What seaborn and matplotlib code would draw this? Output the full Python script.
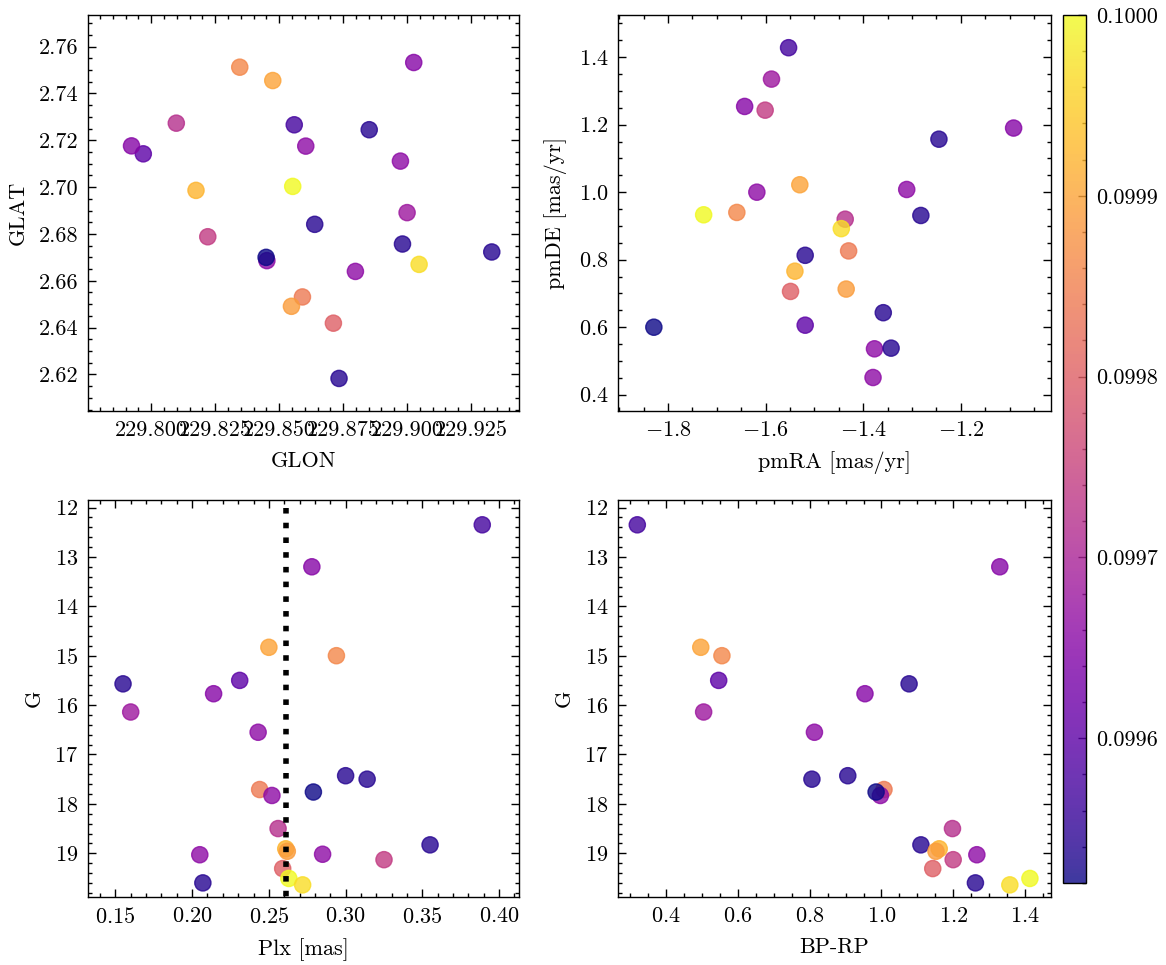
import numpy as np
import pandas as pd
import seaborn as sns
import matplotlib
matplotlib.use("Agg")
from matplotlib import pyplot as plt
from matplotlib.colors import Normalize
from matplotlib.ticker import FormatStrFormatter, MultipleLocator

# star table (one entry per star)
glon = [229.8559, 229.9026, 229.8475, 229.8346, 229.8852, 229.7969, 229.7923, 229.9000,
        229.8604, 229.8639, 229.8982, 229.8591, 229.8974, 229.8098, 229.9331, 229.8175,
        229.8548, 229.8452, 229.8798, 229.8221, 229.8712, 229.8553, 229.9047, 229.8734,
        229.8449]
glat = [2.7266, 2.7532, 2.7455, 2.7512, 2.7245, 2.7142, 2.7176, 2.6891,
        2.7175, 2.6841, 2.6757, 2.6531, 2.7111, 2.7273, 2.6723, 2.6986,
        2.6491, 2.6686, 2.6640, 2.6788, 2.6419, 2.7003, 2.6670, 2.6183,
        2.6700]
pmra = [-1.553, -1.643, -1.530, -1.659, -1.245, -1.519, -1.092, -1.588,
        -1.618, -1.282, -1.519, -1.430, -1.311, -1.437, -1.359, -1.540,
        -1.435, -1.377, -1.380, -1.601, -1.549, -1.727, -1.445, -1.343,
        -1.829]
pmde = [1.428, 1.254, 1.022, 0.940, 1.157, 0.606, 1.190, 1.335,
        1.000, 0.931, 0.813, 0.826, 1.008, 0.920, 0.643, 0.766,
        0.713, 0.536, 0.451, 1.243, 0.706, 0.933, 0.892, 0.538,
        0.600]
plx = [0.389, 0.278, 0.250, 0.294, 0.155, 0.231, 0.214, 0.160,
       0.243, 0.300, 0.314, 0.244, 0.252, 0.256, 0.355, 0.261,
       0.262, 0.205, 0.285, 0.325, 0.259, 0.263, 0.272, 0.207,
       0.279]
gmag = [12.35, 13.20, 14.83, 15.00, 15.57, 15.50, 15.77, 16.14,
        16.55, 17.43, 17.50, 17.71, 17.83, 18.50, 18.83, 18.91,
        18.96, 19.03, 19.02, 19.13, 19.31, 19.51, 19.64, 19.60,
        17.76]
# one star has no colour in the CMD panel
bprp = [0.319, 1.330, 0.496, 0.555, 1.077, 0.546, 0.954, 0.504,
        0.813, 0.906, 0.806, 1.007, 0.997, 1.198, 1.110, 1.161,
        1.152, 1.266, np.nan, 1.200, 1.143, 1.414, 1.358, 1.262,
        0.985]
cval = [0.09957, 0.09965, 0.09990, 0.09986, 0.09954, 0.09960, 0.09965, 0.09968,
        0.09966, 0.09954, 0.09954, 0.09984, 0.09966, 0.09972, 0.09954, 0.09992,
        0.09989, 0.09966, 0.09966, 0.09974, 0.09980, 0.10000, 0.09997, 0.09954,
        0.09952]
plx_cut = 0.2613
cbar_ticks = [0.0996, 0.0997, 0.0998, 0.0999, 0.1000]

df = pd.DataFrame({'GLON': glon, 'GLAT': glat, 'pmRA': pmra, 'pmDE': pmde,
                   'Plx': plx, 'G': gmag, 'BPRP': bprp, 'c': cval})

sns.set_style('ticks')
plt.rcParams.update({
    'font.family': ['cmr10', 'DejaVu Serif'],
    'mathtext.fontset': 'cm',
    'axes.formatter.use_mathtext': True,
    'font.size': 8,
    'axes.labelsize': 8,
    'xtick.labelsize': 8,
    'ytick.labelsize': 8,
    'axes.edgecolor': 'black',
    'axes.linewidth': 0.5,
    'text.color': 'black',
    'axes.labelcolor': 'black',
    'xtick.color': 'black',
    'ytick.color': 'black',
    'xtick.direction': 'in',
    'ytick.direction': 'in',
    'xtick.top': True,
    'ytick.right': True,
    'xtick.minor.visible': True,
    'ytick.minor.visible': True,
    'xtick.major.size': 3,
    'ytick.major.size': 3,
    'xtick.minor.size': 1.5,
    'ytick.minor.size': 1.5,
    'xtick.major.width': 0.5,
    'ytick.major.width': 0.5,
    'xtick.minor.width': 0.5,
    'ytick.minor.width': 0.5,
})

norm = Normalize(vmin=0.09952, vmax=0.10000)
fig = plt.figure(figsize=(5.83, 4.825), dpi=200)

ax1 = fig.add_axes([0.0755, 0.5741, 0.3693, 0.4104])
ax2 = fig.add_axes([0.5300, 0.5741, 0.3710, 0.4104])
ax3 = fig.add_axes([0.0755, 0.0705, 0.3693, 0.4114])
ax4 = fig.add_axes([0.5300, 0.0705, 0.3710, 0.4114])
cax = fig.add_axes([0.9117, 0.0850, 0.0197, 0.8995])

kw = dict(hue='c', palette='plasma', hue_norm=norm, legend=False, s=34,
          alpha=0.8, edgecolor='face', linewidth=0.5)


def set_ticks(ax, xmaj, xmin, ymaj, ymin):
    ax.xaxis.set_major_locator(MultipleLocator(xmaj))
    ax.xaxis.set_minor_locator(MultipleLocator(xmin))
    ax.yaxis.set_major_locator(MultipleLocator(ymaj))
    ax.yaxis.set_minor_locator(MultipleLocator(ymin))


sns.scatterplot(data=df, x='GLON', y='GLAT', ax=ax1, **kw)
ax1.set_xlim(229.7753, 229.9436)
ax1.set_ylim(2.6044, 2.7735)
set_ticks(ax1, 0.025, 0.005, 0.02, 0.005)
ax1.xaxis.set_major_formatter(FormatStrFormatter('%.3f'))
ax1.yaxis.set_major_formatter(FormatStrFormatter('%.2f'))
ax1.set_xlabel('GLON')
ax1.set_ylabel('GLAT')

sns.scatterplot(data=df, x='pmRA', y='pmDE', ax=ax2, **kw)
ax2.set_xlim(-1.9025, -1.0163)
ax2.set_ylim(0.3518, 1.525)
set_ticks(ax2, 0.2, 0.05, 0.2, 0.05)
ax2.set_xlabel('pmRA [mas/yr]')
ax2.set_ylabel('pmDE [mas/yr]')

sns.scatterplot(data=df, x='Plx', y='G', ax=ax3, **kw)
ax3.vlines(plx_cut, 12.0, 20.0, colors='k', linestyles=':', lw=2)
ax3.set_xlim(0.1322, 0.4127)
ax3.set_ylim(19.885, 11.847)
set_ticks(ax3, 0.05, 0.01, 1, 0.2)
ax3.set_xlabel('Plx [mas]')
ax3.set_ylabel('G')

sns.scatterplot(data=df, x='BPRP', y='G', ax=ax4, **kw)
ax4.set_xlim(0.2651, 1.4716)
ax4.set_ylim(19.885, 11.847)
set_ticks(ax4, 0.2, 0.05, 1, 0.2)
ax4.set_xlabel('BP-RP')
ax4.set_ylabel('G')

sm = plt.cm.ScalarMappable(norm=norm, cmap='plasma')
cb = fig.colorbar(sm, cax=cax, alpha=0.8)
cb.outline.set_linewidth(0.5)
cb.set_ticks(cbar_ticks)
cb.ax.yaxis.set_major_formatter(FormatStrFormatter('%.4f'))
cb.ax.yaxis.set_minor_locator(MultipleLocator(0.00002))
cb.ax.tick_params(which='both', direction='in', right=True, left=False)

fig.savefig('out.png', dpi=200)
